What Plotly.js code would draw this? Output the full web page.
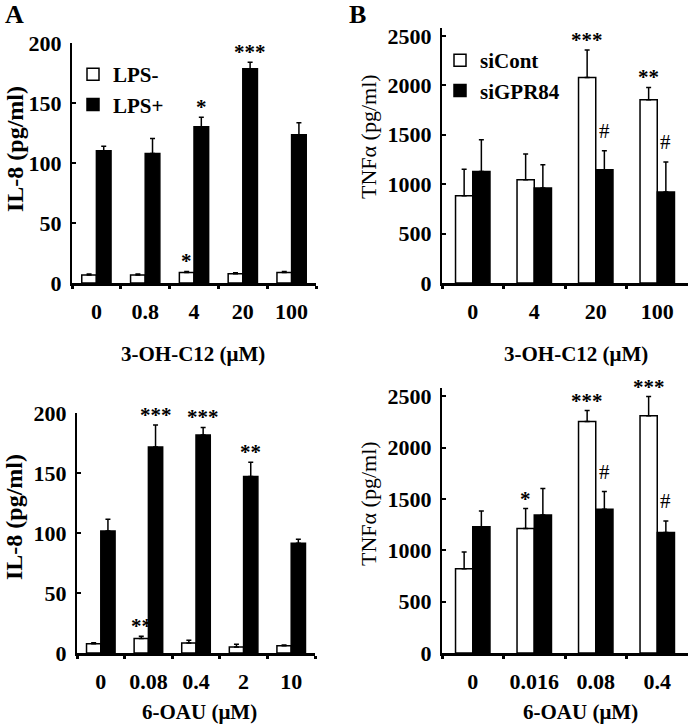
<!DOCTYPE html>
<html><head><meta charset="utf-8">
<script src="https://cdn.plot.ly/plotly-3.0.1.min.js"></script>
<style>html,body{margin:0;padding:0;background:#fff}#c{width:693px;height:728px}</style>
</head><body><div id="c"></div>
<script>
// ---- data ----
const catsA1 = ["0", "0.8", "4", "20", "100"];
const lpsNegA1 = [6.6, 6.6, 8.8, 7.7, 8.8];
const lpsNegA1Err = [0.8, 0.8, 0.8, 0.8, 0.8];
const lpsPosA1 = [110.3, 108, 130.2, 178.5, 123.6];
const lpsPosA1Err = [3.7, 12.5, 8, 5.5, 9.9];
const sigNegA1 = ["", "", "*", "", ""];
const sigPosA1 = ["", "", "*", "***", ""];

const catsB1 = ["0", "4", "20", "100"];
const siContB1 = [883, 1044, 2079, 1853];
const siContB1Err = [269, 260, 279, 125];
const siGprB1 = [1129, 960, 1146, 920];
const siGprB1Err = [320, 236, 192, 303];
const sigContB1 = ["", "", "***", "**"];
const sigGprB1 = ["", "", "#", "#"];

const catsA2 = ["0", "0.08", "0.4", "2", "10"];
const lpsNegA2 = [7.8, 12, 8.4, 5, 6.1];
const lpsNegA2Err = [0.8, 1.9, 2.2, 2.2, 0.5];
const lpsPosA2 = [101.7, 171.6, 181.6, 147, 91.4];
const lpsPosA2Err = [9.7, 18.4, 6.4, 12, 3.3];
const sigNegA2 = ["", "**", "", "", ""];
const sigPosA2 = ["", "***", "***", "**", ""];

const catsB2 = ["0", "0.016", "0.08", "0.4"];
const siContB2 = [820, 1211, 2253, 2311];
const siContB2Err = [163, 195, 107, 186];
const siGprB2 = [1230, 1344, 1400, 1172];
const siGprB2Err = [153, 258, 172, 114];
const sigContB2 = ["", "*", "***", "***"];
const sigGprB2 = ["", "", "#", "#"];

// ---- styling ----
const FONT = "Liberation Serif, Times New Roman, serif";
const W = 693, H = 728;
const zeros = n => new Array(n).fill(0);

function barTrace(cats, vals, errs, white, xa, ya, name, showlegend, legend, bw, off) {
  return {
    type: "bar", x: cats, y: vals, name: name, xaxis: xa, yaxis: ya,
    width: bw, offset: off, showlegend: showlegend, legend: legend,
    marker: {color: white ? "#ffffff" : "#000000", line: {color: "#000000", width: 1.5}},
    error_y: {type: "data", array: errs, arrayminus: zeros(errs.length), symmetric: false,
              color: "#000000", thickness: 1.5, width: 2.5}
  };
}

const traces = [
  barTrace(catsA1, lpsNegA1, lpsNegA1Err, true, "x", "y", "LPS-", true, "legend", 0.3, -0.3),
  barTrace(catsA1, lpsPosA1, lpsPosA1Err, false, "x", "y", "LPS+", true, "legend", 0.3, 0),
  barTrace(catsB1, siContB1, siContB1Err, true, "x2", "y2", "siCont", true, "legend2", 0.28, -0.28),
  barTrace(catsB1, siGprB1, siGprB1Err, false, "x2", "y2", "siGPR84", true, "legend2", 0.28, 0),
  barTrace(catsA2, lpsNegA2, lpsNegA2Err, true, "x3", "y3", "LPS-", false, "legend", 0.3, -0.3),
  barTrace(catsA2, lpsPosA2, lpsPosA2Err, false, "x3", "y3", "LPS+", false, "legend", 0.3, 0),
  barTrace(catsB2, siContB2, siContB2Err, true, "x4", "y4", "siCont", false, "legend2", 0.28, -0.28),
  barTrace(catsB2, siGprB2, siGprB2Err, false, "x4", "y4", "siGPR84", false, "legend2", 0.28, 0)
];

const annotations = [];
function sigAnn(sig, vals, errs, xa, ya, shift) {
  sig.forEach((s, i) => {
    if (!s) return;
    const hash = s === "#";
    annotations.push({
      xref: xa, yref: ya, x: i + shift, y: vals[i] + errs[i],
      text: s, showarrow: false, xanchor: "center", yanchor: "bottom",
      yshift: hash ? 6 : -4,
      font: {family: FONT, size: 21, color: "#000", weight: hash ? "normal" : "bold"}
    });
  });
}
sigAnn(sigNegA1, lpsNegA1, lpsNegA1Err, "x", "y", -0.15);
sigAnn(sigPosA1, lpsPosA1, lpsPosA1Err, "x", "y", 0.15);
sigAnn(sigContB1, siContB1, siContB1Err, "x2", "y2", -0.14);
sigAnn(sigGprB1, siGprB1, siGprB1Err, "x2", "y2", 0.14);
sigAnn(sigNegA2, lpsNegA2, lpsNegA2Err, "x3", "y3", -0.15);
sigAnn(sigPosA2, lpsPosA2, lpsPosA2Err, "x3", "y3", 0.15);
sigAnn(sigContB2, siContB2, siContB2Err, "x4", "y4", -0.14);
sigAnn(sigGprB2, siGprB2, siGprB2Err, "x4", "y4", 0.14);

function txt(text, px, py, size, weight, angle) {
  annotations.push({xref: "paper", yref: "paper", x: px / W, y: 1 - py / H, text: text,
    showarrow: false, xanchor: "center", yanchor: "middle", textangle: angle || 0,
    font: {family: FONT, size: size, color: "#000", weight: weight}});
}
txt("A", 14, 14, 26, "bold");
txt("B", 357, 14, 26, "bold");
txt("IL-8 (pg/ml)", 15, 149, 24, "bold", -90);
txt("TNF\u03b1 (pg/ml)", 368, 137, 22, "normal", -90);
txt("IL-8 (pg/ml)", 14, 517, 24, "bold", -90);
txt("TNF\u03b1 (pg/ml)", 368, 504, 22, "normal", -90);
txt("3-OH-C12 (\u03bcM)", 193, 354, 21, "bold");
txt("3-OH-C12 (\u03bcM)", 576, 354, 21, "bold");
txt("6-OAU (\u03bcM)", 199, 712, 21, "bold");
txt("6-OAU (\u03bcM)", 580, 712, 21, "bold");

const tickFont = {family: FONT, size: 22, color: "#000", weight: "bold"};
function xax(x0, x1, anchor) {
  return {domain: [x0 / W, x1 / W], anchor: anchor, type: "category",
    showline: true, linecolor: "#000", linewidth: 3, showgrid: false, zeroline: false,
    ticks: "outside", tickson: "boundaries", ticklen: 3, tickwidth: 3, tickcolor: "#000",
    tickangle: 0, tickfont: tickFont, ticklabelstandoff: 7, fixedrange: true};
}
function yax(y0, y1, range, dtick, anchor) {
  return {domain: [1 - y1 / H, 1 - y0 / H], anchor: anchor, range: range, dtick: dtick,
    showline: true, linecolor: "#000", linewidth: 2, showgrid: false, zeroline: false,
    ticks: "inside", ticklen: 4, tickwidth: 2, tickcolor: "#000",
    tickfont: tickFont, ticklabelstandoff: 4, fixedrange: true};
}

const legendFont = {family: FONT, size: 21, color: "#000", weight: "bold"};
const layout = {
  width: W, height: H, margin: {l: 0, r: 0, t: 0, b: 0},
  paper_bgcolor: "#fff", plot_bgcolor: "#fff", barmode: "overlay",
  font: {family: FONT, color: "#000"},
  xaxis: xax(72, 316, "y"),
  yaxis: yax(43, 283, [0, 200], 50, "x"),
  xaxis2: xax(442, 688, "y2"),
  yaxis2: yax(28, 283, [0, 2580], 500, "x2"),
  xaxis3: xax(77, 315, "y3"),
  yaxis3: yax(413, 653, [0, 200], 50, "x3"),
  xaxis4: xax(442, 688, "y4"),
  yaxis4: yax(388, 653, [0, 2580], 500, "x4"),
  legend: {x: 73 / W, y: 1 - 54 / H, xanchor: "left", yanchor: "top", bgcolor: "rgba(0,0,0,0)",
           font: legendFont, itemwidth: 30, traceorder: "normal"},
  legend2: {x: 440 / W, y: 1 - 40 / H, xanchor: "left", yanchor: "top", bgcolor: "rgba(0,0,0,0)",
           font: legendFont, itemwidth: 30, traceorder: "normal"},
  annotations: annotations,
  showlegend: true
};

Plotly.newPlot("c", traces, layout, {displayModeBar: false, staticPlot: true});
</script>
</body></html>
